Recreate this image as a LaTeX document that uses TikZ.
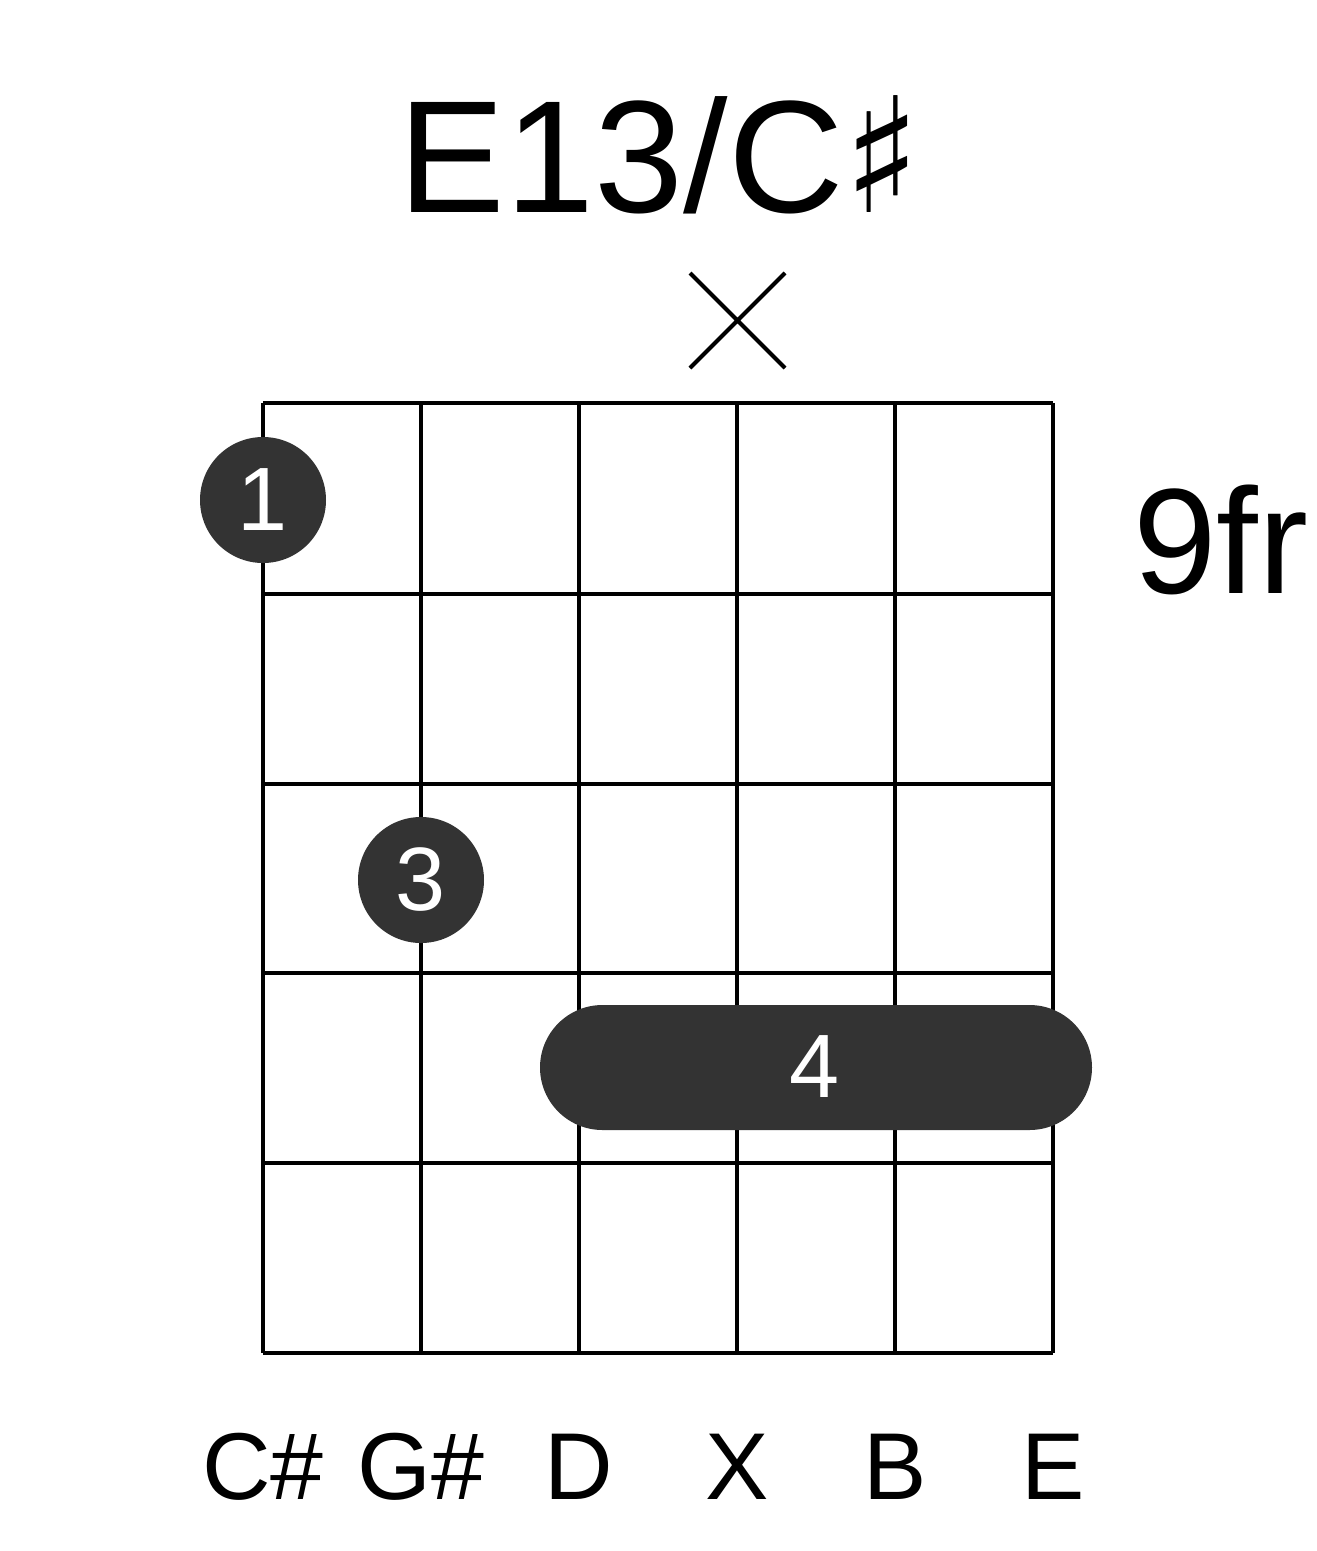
\documentclass[tikz,border=0pt]{standalone}
\usepackage{fontspec}
\setmainfont{Liberation Sans}
\newfontfamily\symf{DejaVu Sans}
\definecolor{dot}{HTML}{333333}
\begin{document}
\begin{tikzpicture}[x=1pt,y=-1pt,
  grid/.style={line width=4pt,black},
  fing/.style={circle,fill=dot,minimum size=126pt,inner sep=0pt,text=white,font=\fontsize{90}{90}\selectfont},
  lbl/.style={font=\fontsize{95}{95}\selectfont}]
\useasboundingbox (0,0) rectangle (1317,1551);
\foreach \x in {263,421,579,737,895,1053} \draw[grid] (\x,403) -- (\x,1353);
\foreach \y in {403,594,784,973,1163,1353} \draw[grid] (263,\y) -- (1053,\y);
\node[font=\fontsize{160}{160}\selectfont] (t) at (660,155) {E13/C{\symf ♯}};
\draw[line width=4pt] (690,273) -- (785,368) (690,368) -- (785,273);
\node[font=\fontsize{150}{150}\selectfont,anchor=west] (fr) at (1130,540) {9fr};
\node[fing] (f1) at (263,500) {1};
\node[fing] (f3) at (421,880) {3};
\fill[dot,rounded corners=62.5pt] (540,1005) rectangle (1092,1130);
\node[text=white,font=\fontsize{90}{90}\selectfont] (f4) at (815,1067) {4};
\foreach \x/\t in {263/C\#,421/G\#,579/D,737/X,895/B,1053/E}
  \node[lbl] at (\x,1467) {\t};
\end{tikzpicture}
\end{document}
